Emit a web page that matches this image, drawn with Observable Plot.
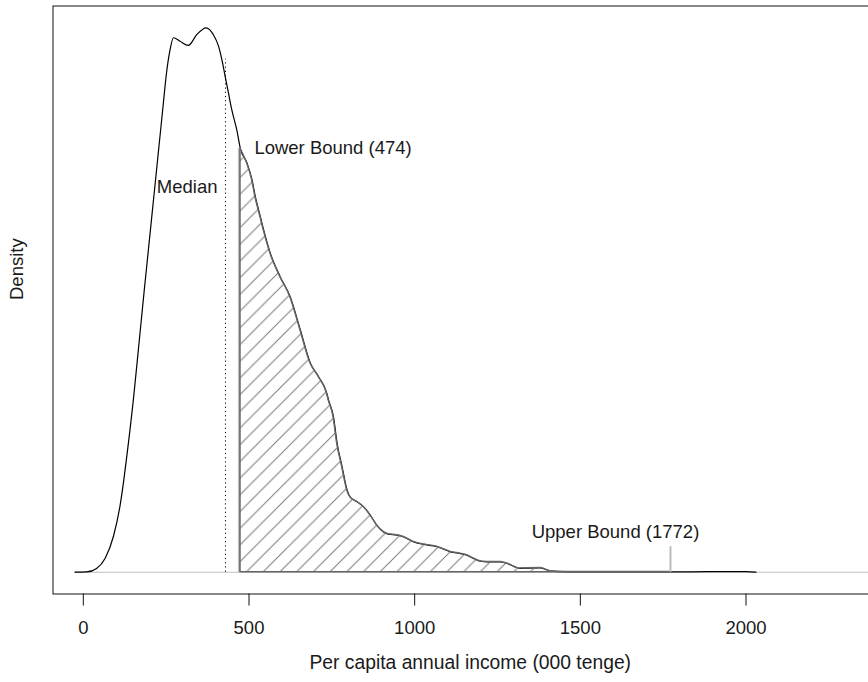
<!DOCTYPE html>
<html><head><meta charset="utf-8">
<script src="https://cdn.jsdelivr.net/npm/d3@7"></script>
<script src="https://cdn.jsdelivr.net/npm/@observablehq/plot@0.6"></script>
<style>
html,body{margin:0;padding:0;background:#fff;}
body{width:868px;height:682px;overflow:hidden;}
#chart svg{display:block;}
</style></head><body><div id="chart"></div>
<script>
// Per capita annual income (000 tenge) sample points of the kernel density curve
const income = [-25, 10, 40, 66, 91, 111, 121, 131, 151, 166, 184, 196, 207, 220, 232, 242, 250, 262, 272, 292, 317, 343, 371, 392, 408, 418, 428, 438, 448, 463, 474, 494, 509, 519, 534, 544, 564, 594, 624, 655, 685, 710, 735, 740, 755, 766, 781, 796, 806, 826, 846, 866, 886, 906, 921, 947, 967, 997, 1027, 1057, 1078, 1108, 1138, 1153, 1178, 1198, 1219, 1259, 1279, 1319, 1340, 1380, 1410, 1460, 1600, 1772, 1900, 2000, 2030];
// Density (x 1000)
const density = [0, 0.001, 0.015, 0.055, 0.141, 0.262, 0.350, 0.452, 0.675, 0.870, 1.106, 1.258, 1.398, 1.563, 1.716, 1.843, 1.944, 2.048, 2.094, 2.080, 2.064, 2.107, 2.133, 2.107, 2.061, 2.009, 1.943, 1.878, 1.812, 1.734, 1.660, 1.603, 1.538, 1.472, 1.394, 1.342, 1.251, 1.158, 1.080, 0.949, 0.820, 0.766, 0.701, 0.675, 0.609, 0.505, 0.413, 0.322, 0.293, 0.276, 0.256, 0.224, 0.184, 0.158, 0.149, 0.145, 0.138, 0.119, 0.109, 0.103, 0.095, 0.080, 0.073, 0.069, 0.054, 0.043, 0.040, 0.040, 0.034, 0.015, 0.016, 0.017, 0.004, 0.001, 0.001, 0.001, 0.002, 0.002, 0];

const xTicks = [0, 500, 1000, 1500, 2000];
const xDomain = [-91.5, 2427];
const medianValue = 429;
const medianTop = 2.01;
const medianLabel = "Median";
const medianLabelY = 1.51;
const lowerBound = 474;
const lowerBoundDensity = 1.66;
const lowerLabel = "Lower Bound (474)";
const upperBound = 1772;
const upperRuleTop = 0.10;
const upperLabel = "Upper Bound (1772)";
const xLabel = "Per capita annual income (000 tenge)";
const yLabel = "Density";

const rows = income.map((x, i) => ({income: x, density: density[i]}));
const hatched = rows.filter(d => d.income >= lowerBound && d.income <= upperBound);
const peak = d3.max(density);
const curve = "monotone-x";
const font = "'Liberation Sans', Arial, Helvetica, sans-serif";
const ink = "#1a1a1a";

const chart = Plot.plot({
  width: 868,
  height: 682,
  marginLeft: 52.5,
  marginRight: -19,
  marginTop: 5.5,
  marginBottom: 88.5,
  x: {domain: xDomain},
  y: {domain: [-0.04 * peak, 1.04 * peak], axis: null},
  style: {fontFamily: font, fontSize: "18.5px", color: ink, background: "white", overflow: "hidden"},
  marks: [
    Plot.ruleY([0], {x1: income[0], x2: xDomain[1], stroke: "#bebebe", strokeWidth: 1}),
    Plot.lineY(rows, {x: "income", y: "density", stroke: "black", strokeWidth: 1.2, curve}),
    Plot.ruleX([lowerBound], {y1: 0, y2: lowerBoundDensity, stroke: "#c2c2c2", strokeWidth: 3, dx: -1}),
    Plot.areaY(hatched, {x: "income", y: "density", fill: "url(#hatch)", stroke: "#666", strokeWidth: 1.4, curve}),
    Plot.ruleX([medianValue], {y1: 0, y2: medianTop, stroke: "black", strokeWidth: 1, strokeDasharray: "1.2,3"}),
    Plot.ruleX([upperBound], {y1: 0, y2: upperRuleTop, stroke: "#bbb", strokeWidth: 2}),
    Plot.text([medianLabel], {x: medianValue, y: medianLabelY, text: d => d, textAnchor: "end", dx: -8, fill: ink, fontSize: 18.5}),
    Plot.text([lowerLabel], {x: lowerBound, y: lowerBoundDensity, text: d => d, textAnchor: "start", dx: 14, dy: 0, fill: ink, fontSize: 18.5}),
    Plot.text([upperLabel], {x: upperBound, y: upperRuleTop, text: d => d, textAnchor: "middle", dx: -55, dy: -15, fill: ink, fontSize: 18.5}),
    Plot.frame({stroke: "#111", strokeWidth: 1}),
    Plot.axisX({ticks: xTicks, tickFormat: d => String(d), tickSize: 12, tickPadding: 15, label: null, fontSize: 18.5, stroke: "#111", fill: ink}),
    Plot.text([xLabel], {frameAnchor: "bottom", text: d => d, dy: 75, fill: ink, fontSize: 19.3}),
    Plot.text([yLabel], {frameAnchor: "left", text: d => d, rotate: -90, dx: -36, fill: ink, fontSize: 18.5})
  ]
});

d3.select(chart).append("defs").html(
  `<pattern id="hatch" patternUnits="userSpaceOnUse" width="16.7" height="16.7">
     <path d="M0,16.7 L16.7,0 M-2,2 L2,-2 M14.7,18.7 L18.7,14.7" stroke="#7a7a7a" stroke-width="1" fill="none"/>
   </pattern>`
);
document.getElementById("chart").appendChild(chart);
</script>
</body></html>
